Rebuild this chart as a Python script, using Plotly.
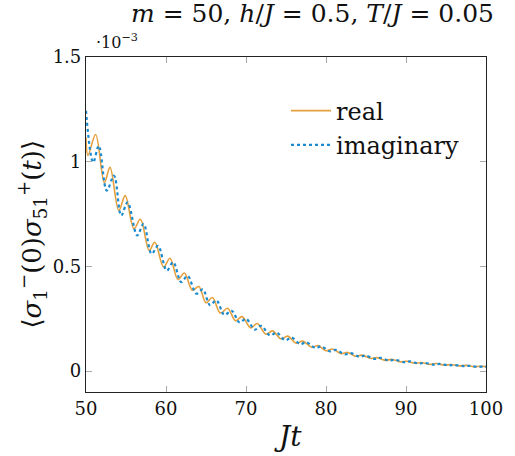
import plotly.graph_objects as go

# values in units of 1e-3 (with the ·10^-3 multiplier)
real_t = [50.0, 50.25, 51.2, 52.3, 53.0, 54.1, 54.9, 56.0, 56.8, 57.9, 58.6, 59.7, 60.5,
          61.5, 62.3, 63.3, 64.1, 65.0, 65.8, 66.8, 67.7, 68.7, 69.5, 70.6, 71.4, 72.5,
          73.3, 74.4, 75.2, 76.3, 77.1, 78.2, 79.0, 80.0, 80.8, 81.9, 82.7, 83.7, 84.5,
          85.6, 86.4, 87.4, 88.2, 89.3, 90.1, 91.1, 91.9, 93.0, 93.8, 94.8, 95.6, 96.7,
          97.5, 98.5, 99.3, 100.0]
real_v = [1.115, 1.03, 1.13, 0.90, 0.973, 0.767, 0.838, 0.68, 0.725, 0.576, 0.615, 0.497, 0.539,
          0.437, 0.468, 0.386, 0.404, 0.326, 0.351, 0.277, 0.300, 0.240, 0.260, 0.206, 0.227, 0.176,
          0.192, 0.153, 0.167, 0.133, 0.143, 0.114, 0.122, 0.097, 0.105, 0.083, 0.089, 0.071, 0.076,
          0.060, 0.064, 0.051, 0.056, 0.044, 0.047, 0.037, 0.041, 0.032, 0.036, 0.028, 0.031, 0.025,
          0.027, 0.021, 0.023, 0.021]

imag_t = [50.0, 50.9, 51.6, 52.6, 53.5, 54.4, 55.2, 56.4, 57.2, 58.2, 59.0, 60.1, 60.9,
          61.9, 62.7, 63.8, 64.6, 65.5, 66.3, 67.3, 68.2, 69.2, 70.0, 71.1, 71.9, 73.0,
          73.8, 74.9, 75.7, 76.8, 77.5, 78.7, 79.4, 80.5, 81.2, 82.4, 83.1, 84.2, 84.9,
          86.1, 86.8, 87.9, 88.6, 89.8, 90.5, 91.6, 92.3, 93.5, 94.2, 95.3, 96.0, 97.2,
          97.9, 99.0, 99.7, 100.0]
imag_v = [1.243, 0.997, 1.076, 0.862, 0.933, 0.743, 0.806, 0.648, 0.703, 0.56, 0.598, 0.48, 0.52,
          0.425, 0.455, 0.37, 0.39, 0.315, 0.338, 0.268, 0.288, 0.232, 0.25, 0.198, 0.216, 0.170,
          0.184, 0.147, 0.160, 0.128, 0.138, 0.110, 0.118, 0.094, 0.101, 0.080, 0.086, 0.068, 0.074,
          0.058, 0.063, 0.050, 0.054, 0.042, 0.046, 0.036, 0.039, 0.031, 0.034, 0.027, 0.029, 0.024,
          0.025, 0.020, 0.022, 0.021]

x_ticks = [50, 60, 70, 80, 90, 100]
y_ticks = [0, 0.5, 1, 1.5]
y_tick_labels = ["0", "0.5", "1", "1.5"]

SERIF = "DejaVu Serif"
ORANGE = "#E5A03E"
BLUE = "#1A8BD0"

fig = go.Figure()
fig.add_trace(go.Scatter(x=real_t, y=real_v, mode="lines", name="real",
                         line=dict(color=ORANGE, width=1.6, shape="spline", smoothing=1.0)))
fig.add_trace(go.Scatter(x=imag_t, y=imag_v, mode="lines", name="imaginary",
                         line=dict(color=BLUE, width=2.2, dash="dot", shape="spline", smoothing=1.0)))

axis_common = dict(showgrid=False, zeroline=False, showline=True, linecolor="#222",
                   linewidth=1.2, mirror="allticks", ticks="inside", ticklen=6,
                   tickcolor="#aaa", tickwidth=1,
                   tickfont=dict(family=SERIF, size=18, color="#111"))

fig.update_xaxes(range=[50, 100], tickvals=x_ticks, **axis_common)
fig.update_yaxes(range=[-0.1, 1.5], tickvals=y_ticks, ticktext=y_tick_labels, **axis_common)

fig.update_layout(
    width=515, height=456,
    margin=dict(l=86, r=24, t=57, b=64),
    paper_bgcolor="white", plot_bgcolor="white",
    hovermode=False,
    showlegend=True,
    legend=dict(x=0.5, y=0.906, xanchor="left", yanchor="top",
                bgcolor="rgba(0,0,0,0)", borderwidth=0,
                font=dict(family=SERIF, size=24, color="#111"),
                tracegroupgap=0, itemwidth=40),
    annotations=[
        dict(text="<i>m</i> = 50, <i>h</i>/<i>J</i> = 0.5, <i>T</i>/<i>J</i> = 0.05",
             xref="paper", yref="paper", x=0.565, y=1.13, xanchor="center", yanchor="middle",
             showarrow=False, font=dict(family=SERIF, size=25, color="#111")),
        dict(text="·10<sup>−3</sup>", xref="paper", yref="paper", x=0.02, y=1.045,
             xanchor="left", yanchor="middle", showarrow=False,
             font=dict(family=SERIF, size=16, color="#111")),
        dict(text="⟨<i>σ</i><sub>1</sub><sup>−</sup>(0)<i>σ</i><sub>51</sub><sup>+</sup>(<i>t</i>)⟩",
             xref="paper", yref="paper", x=-0.135, y=0.47, xanchor="center", yanchor="middle",
             textangle=-90, showarrow=False, font=dict(family=SERIF, size=26, color="#111")),
        dict(text="<i>Jt</i>", xref="paper", yref="paper", x=0.504, y=-0.134,
             xanchor="center", yanchor="middle", showarrow=False,
             font=dict(family=SERIF, size=28, color="#111")),
    ],
)

fig.write_html("out.html")
